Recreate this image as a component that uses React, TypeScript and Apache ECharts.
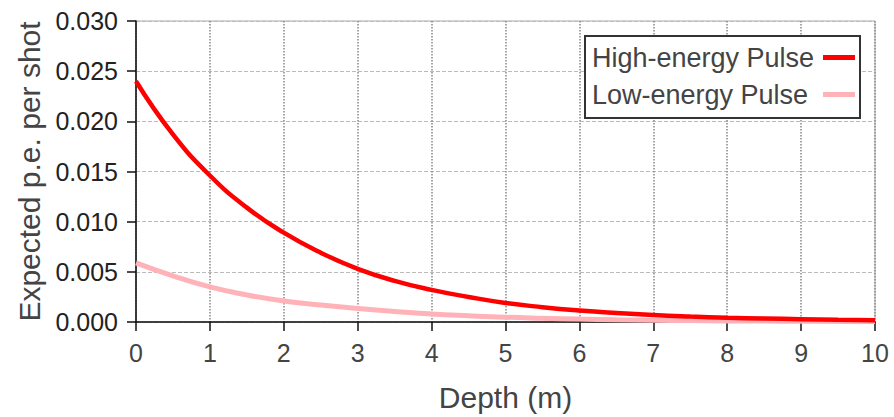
import React, { useEffect, useRef } from "react";
import * as echarts from "echarts";

const depths = [0, 0.5, 1, 1.5, 2, 2.5, 3, 3.5, 4, 4.5, 5, 5.5, 6, 6.5, 7, 7.5, 8, 8.5, 9, 9.5, 10];
const highEnergy = [0.024, 0.0187, 0.0146, 0.0114, 0.0089, 0.0069, 0.0053, 0.0041, 0.0032, 0.0025, 0.0019, 0.00148, 0.00115, 0.0009, 0.0007, 0.00055, 0.00043, 0.00035, 0.00028, 0.00022, 0.00018];
const lowEnergy = [0.0059, 0.0046, 0.0035, 0.0027, 0.0021, 0.0017, 0.00135, 0.00105, 0.0008, 0.00062, 0.00047, 0.00037, 0.00029, 0.00023, 0.00018, 0.00014, 0.00011, 0.00009, 0.00007, 0.00006, 0.00005];
const seriesNames = ["High-energy Pulse", "Low-energy Pulse"];
const xTitle = "Depth (m)";
const yTitle = "Expected p.e. per shot";

const FONT = "'Liberation Sans', Arial, sans-serif";

export default function App() {
  const ref = useRef<HTMLDivElement>(null);
  useEffect(() => {
    const chart = echarts.init(ref.current!, null, { renderer: "svg" });
    chart.setOption({
      animation: false,
      textStyle: { fontFamily: FONT },
      grid: {
        left: 136,
        right: 19,
        top: 21,
        bottom: 94,
        show: true,
        borderColor: "#aaa",
        borderWidth: 1,
      },
      legend: {
        data: seriesNames,
        orient: "vertical",
        right: 34,
        top: 36,
        align: "right",
        icon: "rect",
        itemWidth: 32,
        itemHeight: 5,
        itemGap: 10,
        padding: [8, 5, 10, 7],
        backgroundColor: "#fff",
        borderColor: "#333",
        borderWidth: 2,
        formatter: (name: string) => `{t|${name}}`,
        textStyle: {
          fontSize: 27,
          color: "#444",
          fontFamily: FONT,
          rich: {
            t: { fontSize: 27, color: "#444", fontFamily: FONT, width: 226, align: "left" },
          },
        },
      },
      xAxis: {
        type: "value",
        min: 0,
        max: 10,
        interval: 1,
        name: xTitle,
        nameLocation: "middle",
        nameGap: 60,
        nameTextStyle: { fontSize: 30, color: "#444", fontFamily: FONT },
        axisLine: { show: true, onZero: false, lineStyle: { color: "#111", width: 1.5 } },
        axisTick: { show: true, length: 9, lineStyle: { color: "#111", width: 1.5 } },
        axisLabel: { fontSize: 25, color: "#444", margin: 18, fontFamily: FONT },
        splitLine: { show: true, lineStyle: { color: "#888", type: "dotted", width: 1.5 } },
      },
      yAxis: {
        type: "value",
        min: 0,
        max: 0.03,
        interval: 0.005,
        name: yTitle,
        nameLocation: "middle",
        nameGap: 91,
        nameTextStyle: { fontSize: 30, color: "#444", fontFamily: FONT },
        axisLine: { show: true, onZero: false, lineStyle: { color: "#111", width: 1.5 } },
        axisTick: { show: true, length: 9, lineStyle: { color: "#111", width: 1.5 } },
        axisLabel: {
          fontSize: 25,
          color: "#222",
          margin: 18,
          fontFamily: FONT,
          formatter: (v: number) => v.toFixed(3),
        },
        splitLine: { show: true, lineStyle: { color: "#bbb", type: "dashed", width: 1 } },
      },
      series: [
        {
          name: seriesNames[0],
          type: "line",
          smooth: true,
          showSymbol: false,
          symbol: "none",
          data: depths.map((d, i) => [d, highEnergy[i]]),
          lineStyle: { color: "#ff0000", width: 4.5 },
          itemStyle: { color: "#ff0000" },
          z: 3,
        },
        {
          name: seriesNames[1],
          type: "line",
          smooth: true,
          showSymbol: false,
          symbol: "none",
          data: depths.map((d, i) => [d, lowEnergy[i]]),
          lineStyle: { color: "#ffb3b8", width: 5 },
          itemStyle: { color: "#ffb3b8" },
          z: 2,
        },
      ],
    });
    return () => chart.dispose();
  }, []);
  return <div ref={ref} style={{ width: 894, height: 417, position: "absolute", left: 0, top: 0 }} />;
}
